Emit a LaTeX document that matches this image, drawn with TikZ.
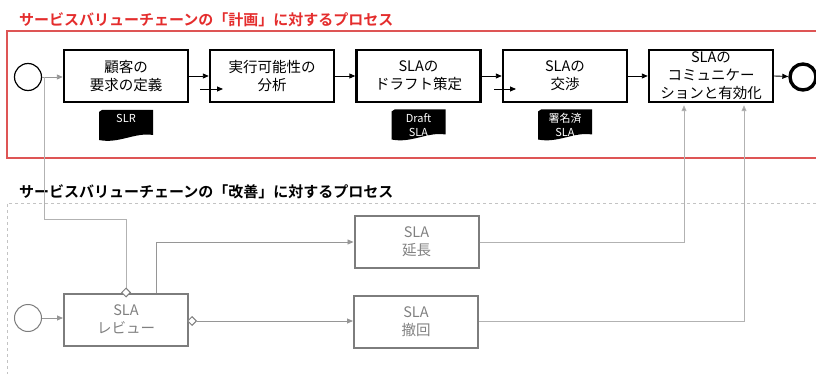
\documentclass[tikz,border=0pt]{standalone}
\usepackage{fontspec}
\setmainfont{Noto Sans CJK JP}[BoldFont={Noto Sans CJK JP Bold}]
\usetikzlibrary{arrows.meta,calc,shapes.geometric}
\definecolor{tred}{RGB}{228,45,45}
\definecolor{fred}{RGB}{222,85,85}
\definecolor{lgray}{RGB}{178,178,178}
\definecolor{agray}{RGB}{150,150,150}
\definecolor{bgray}{RGB}{125,125,125}
\definecolor{tgray}{RGB}{128,128,128}
\definecolor{dgray}{RGB}{195,195,195}
\begin{document}
\begin{tikzpicture}[x=1pt,y=-1pt,
  proc/.style={draw=black, line width=2.4pt, minimum width=124pt, minimum height=52pt,
    inner sep=0pt, align=center, font=\fontsize{14.5}{18}\selectfont},
  gproc/.style={proc, draw=bgray, line width=2pt, text=tgray},
  startev/.style={circle, draw=black, line width=1.2pt, minimum size=27pt, inner sep=0pt},
  endev/.style={circle, draw=black, line width=3.4pt, minimum size=26pt, inner sep=0pt},
  gstartev/.style={startev, draw=bgray, line width=1pt},
  flow/.style={draw=black, line width=0.9pt, -{Triangle[length=6pt,width=5pt]}},
  gflow/.style={draw=agray, line width=0.9pt, -{Triangle[length=6pt,width=5pt]}},
  gline/.style={draw=lgray, line width=1pt},
  glinearrow/.style={draw=lgray, line width=1pt, -{Triangle[length=6pt,width=5pt,fill=agray]}},
  gate/.style={diamond, draw=bgray, fill=white, line width=1pt, minimum width=9pt, minimum height=9pt, inner sep=0pt},
  doc/.style={minimum width=54pt, minimum height=31pt, inner sep=0pt, text=white, align=center,
    font=\fontsize{11}{13.5}\selectfont,
    path picture={\fill[black] ([yshift=-2pt]path picture bounding box.north west)
      -- ([xshift=3pt]path picture bounding box.north west)
      -- (path picture bounding box.north east)
      -- ([yshift=6pt]path picture bounding box.south east)
      .. controls ([xshift=-18pt,yshift=9pt]path picture bounding box.south east)
         and ([xshift=20pt,yshift=-3pt]path picture bounding box.south west)
      .. ([yshift=1pt]path picture bounding box.south west) -- cycle;}},
  ttl/.style={anchor=west, inner sep=0pt, font=\fontsize{15}{18}\selectfont\bfseries}
]
\useasboundingbox (0,0) rectangle (816,374);
\clip (0,0) rectangle (816,374);

% frames
\draw[fred, line width=1.3pt] (7,31) rectangle (840,158);
\draw[dgray, line width=0.9pt, dashed] (840,203) -- (7,203) -- (7,390);

% titles
\node[ttl, text=tred] (t1) at (19,20) {サービスバリューチェーンの「計画」に対するプロセス};
\node[ttl, text=black] (t2) at (19,192) {サービスバリューチェーンの「改善」に対するプロセス};

% planning process
\node[startev] (s1) at (28,77) {};
\node[proc] (b1) at (126,76) {顧客の\\要求の定義};
\node[proc] (b2) at (272,76) {実行可能性の\\分析};
\node[proc] (b3) at (418.5,76) {SLAの\\ドラフト策定};
\node[proc] (b4) at (565,76) {SLAの\\交渉};
\node[proc] (b5) at (711,76) {SLAの\\コミュニケー\\ションと有効化};
\node[endev] (e1) at (803,77) {};

\node[doc] (d1) at (126,125.5) {SLR\\\mbox{}};
\node[doc] (d2) at (418.5,125) {Draft\\SLA};
\node[doc] (d3) at (565,125) {署名済\\SLA};

\coordinate (j1) at (44,77);
\draw[gflow] (s1) -- (b1.west |- s1);
\draw[flow] (b1.east) -- (b2.west);
\draw[flow] (b2.east) -- (b3.west);
\draw[flow] (b3.east) -- (b4.west);
\draw[flow] (b4.east) -- (b5.west);
\draw[flow] (b5.east) -- (e1);

\coordinate (a1) at (200,89);
\coordinate (a2) at (223,89);
\coordinate (a3) at (494,89);
\coordinate (a4) at (516,89);
\draw[flow] (a1) -- (a2);
\draw[flow] (a3) -- (a4);

% improvement process
\node[gstartev] (s2) at (28,318) {};
\node[gproc] (r1) at (126,319.5) {SLA\\レビュー};
\node[gproc] (x1) at (416.5,242) {SLA\\延長};
\node[gproc] (x2) at (416,322) {SLA\\撤回};

\coordinate (c1) at (44,219);
\coordinate (r1top) at ($(r1.north)+(30,0)$);
\draw[gline] (j1) -- (c1) -| (r1.north);
\node[gate] (g1) at (r1.north) {};
\node[gate] (g2) at ($(r1.east)+(3,1.5)$) {};

\draw[gflow] (s2) -- (r1.west |- s2);
\draw[gflow] (r1top) |- (x1.west);
\draw[gflow] (g2.east) -- (x2.west |- g2.east);

\coordinate (u1) at ($(b5.south)+(-27,2)$);
\coordinate (u2) at ($(b5.south)+(33,2)$);
\draw[glinearrow] (x1.east) -| (u1);
\draw[glinearrow] (x2.east |- g2) -| (u2);
\end{tikzpicture}
\end{document}
